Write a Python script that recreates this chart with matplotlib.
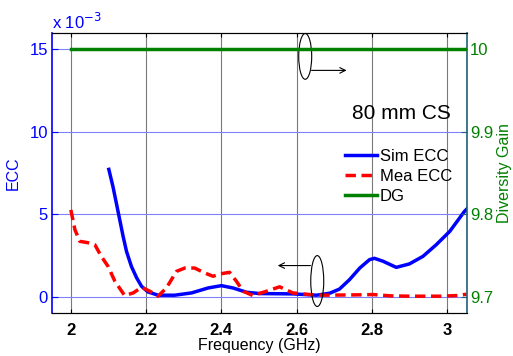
import matplotlib
matplotlib.use("Agg")
import matplotlib.pyplot as plt
from matplotlib.patches import Ellipse

plt.rcParams['font.family'] = ['Liberation Sans', 'DejaVu Sans']

# ---- data (ECC in units of 1e-3) ----
sim_freq = [2.101, 2.112, 2.121, 2.130, 2.139, 2.148, 2.161, 2.175, 2.188, 2.205,
            2.232, 2.276, 2.321, 2.365, 2.400, 2.431, 2.467, 2.502, 2.590, 2.653,
            2.688, 2.714, 2.741, 2.768, 2.794, 2.807, 2.830, 2.865, 2.900, 2.936,
            2.971, 3.007, 3.046, 3.052]
sim_ecc = [7.72, 6.67, 5.67, 4.66, 3.65, 2.74, 1.83, 1.13, 0.62, 0.28,
           0.08, 0.08, 0.22, 0.52, 0.66, 0.52, 0.26, 0.18, 0.16, 0.08,
           0.20, 0.45, 1.03, 1.73, 2.24, 2.32, 2.14, 1.77, 1.98, 2.44,
           3.14, 3.95, 5.16, 5.30]

mea_freq = [2.000, 2.011, 2.024, 2.050, 2.064, 2.081, 2.099, 2.117, 2.143, 2.166,
            2.188, 2.210, 2.232, 2.254, 2.281, 2.303, 2.329, 2.356, 2.378, 2.396,
            2.422, 2.440, 2.458, 2.484, 2.520, 2.555, 2.590, 2.635, 2.670, 2.759,
            2.803, 2.850, 2.900, 2.980, 3.030, 3.052]
mea_ecc = [5.26, 4.05, 3.35, 3.25, 3.14, 2.44, 1.83, 0.93, 0.06, 0.22,
           0.56, 0.32, 0.02, 0.52, 1.53, 1.73, 1.73, 1.43, 1.23, 1.37,
           1.47, 0.93, 0.32, 0.06, 0.32, 0.59, 0.22, 0.12, 0.08, 0.10,
           0.12, 0.04, 0.02, 0.02, 0.06, 0.14]

dg_freq = [2.0, 3.05]
dg_val = [10.0, 10.0]

x_ticks = [2, 2.2, 2.4, 2.6, 2.8, 3]
x_ticklabels = ['2', '2.2', '2.4', '2.6', '2.8', '3']
ecc_ticks = [0, 5, 10, 15]
dg_ticks = [9.7, 9.8, 9.9, 10]
dg_ticklabels = ['9.7', '9.8', '9.9', '10']

BLUE = '#0000ff'
RED = '#ff0000'
GREEN = '#008000'
SPINE_R = '#1f5f78'

fig = plt.figure(figsize=(5.13, 3.56), dpi=100)
ax = fig.add_axes([0.1014, 0.1208, 0.8089, 0.7865])
ax2 = ax.twinx()

ax.set_xlim(1.95, 3.053)
ax.set_ylim(-1, 16)
ax2.set_ylim(9.68, 10.02)

# grid
for xt in x_ticks:
    ax.axvline(xt, color='#7a7a7a', lw=0.8, zorder=0)
for yt in ecc_ticks:
    ax.axhline(yt, color='#8080ff', lw=0.8, zorder=0)

l1, = ax.plot(sim_freq, sim_ecc, color=BLUE, lw=2.5, label='Sim ECC', zorder=3,
              solid_joinstyle='round')
l2, = ax.plot(mea_freq, mea_ecc, color=RED, lw=2.5, dashes=(3.0, 1.6),
              label='Mea ECC', zorder=3)
l3, = ax2.plot(dg_freq, dg_val, color=GREEN, lw=2.5, label='DG', zorder=3)

ax.set_xticks(x_ticks)
ax.set_xticklabels(x_ticklabels, fontweight='bold')
ax.set_yticks(ecc_ticks)
ax2.set_yticks(dg_ticks)
ax2.set_yticklabels(dg_ticklabels)

ax.tick_params(axis='x', direction='in', top=True, length=3, labelsize=12,
               colors='black', pad=7)
ax.tick_params(axis='y', direction='in', length=4, labelsize=12,
               colors=BLUE, labelcolor=BLUE, pad=3)
ax2.tick_params(axis='y', direction='in', length=4, labelsize=12,
                colors=SPINE_R, labelcolor=GREEN, pad=2)

for s in ['top', 'bottom']:
    ax.spines[s].set_color('black')
ax.spines['left'].set_color(BLUE)
ax.spines['left'].set_linewidth(1.2)
ax2.spines['right'].set_color(SPINE_R)
ax2.spines['right'].set_linewidth(1.2)
ax2.spines['left'].set_visible(False)
ax.spines['right'].set_visible(False)

ax.set_xlabel('Frequency (GHz)', fontsize=11.5, labelpad=0)
ax.set_ylabel('ECC', fontsize=11.5, color=BLUE, labelpad=6)
ax2.set_ylabel('Diversity Gain', fontsize=11.5, color=GREEN, labelpad=3)

fig.text(52/513, 1-22/356, 'x 10$^{-3}$', color=BLUE, fontsize=12,
         ha='left', va='center')

ax.text(2.879, 11.1, '80 mm CS', fontsize=15, ha='center', va='center')

ax.add_patch(Ellipse((2.623, 14.58), 0.0345, 2.78, fill=False, ec='black',
                     lw=0.8, zorder=5, clip_on=False))
ax.annotate('', xy=(2.733, 13.73), xytext=(2.640, 13.73),
            arrowprops=dict(arrowstyle='->', color='black', lw=0.8,
                            shrinkA=0, shrinkB=0), zorder=5)
ax.add_patch(Ellipse((2.655, 0.94), 0.0345, 3.09, fill=False, ec='black',
                     lw=0.8, zorder=5))
ax.annotate('', xy=(2.55, 1.88), xytext=(2.637, 1.88),
            arrowprops=dict(arrowstyle='->', color='black', lw=0.8,
                            shrinkA=0, shrinkB=0), zorder=5)

leg = ax2.legend(handles=[l1, l2, l3], loc='center',
                 bbox_to_anchor=(0.835, 0.489), frameon=False, fontsize=12,
                 handlelength=1.9, handletextpad=0.2, labelspacing=0.3)
leg.set_zorder(10)

fig.savefig('out.png', dpi=100)
